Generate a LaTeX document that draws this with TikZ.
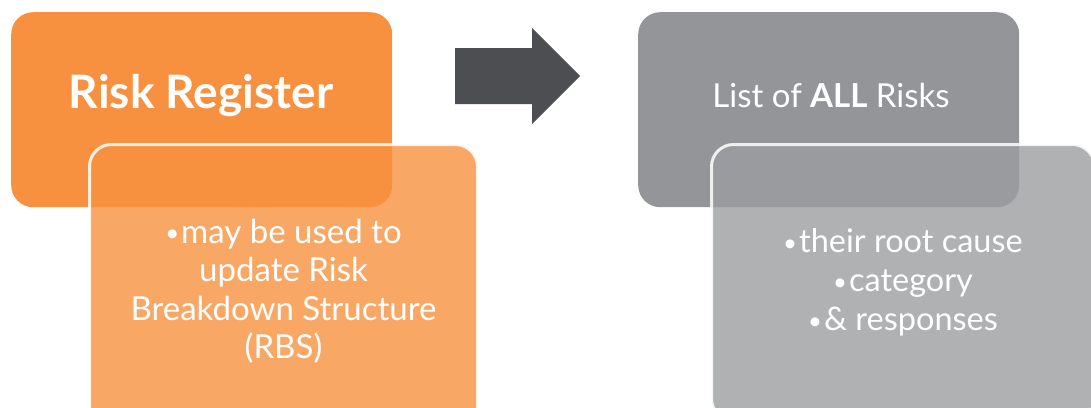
\documentclass[tikz,border=0pt]{standalone}
\usepackage{fontspec}
\setmainfont{Lato}
\definecolor{regorange}{HTML}{F7913F}
\definecolor{listgrey}{HTML}{939598}
\definecolor{notegrey}{HTML}{9C9DA0}
\definecolor{arrowgrey}{HTML}{4D4E52}
\newcommand{\notebullet}{{\fontsize{24}{24}\selectfont\raisebox{1.5pt}{\textbullet}}\hspace{2pt}}
\begin{document}
\begin{tikzpicture}[x=1pt,y=-1pt,
			topbox/.style={rounded corners=22pt, anchor=north west, inner sep=0pt,
				minimum width=381pt, minimum height=195pt},
			notebox/.style={rounded corners=22pt, anchor=north west, inner sep=0pt,
				draw=white, line width=3pt, draw opacity=0.85, fill opacity=0.8,
				text opacity=1, align=center},
			every node/.style={text=white}]
			
			\useasboundingbox (0,0) rectangle (1091,407);
			\clip (0,0) rectangle (1091,407);
			
			% register side
			\node[topbox, fill=regorange] (regbox) at (11,12) {};
			\node[notebox, fill=regorange, minimum width=388pt, minimum height=294pt,
				font=\fontsize{33}{38.5}\selectfont] (regnote) at (88,143)
				{\notebullet may be used to\\update Risk\\Breakdown Structure\\(RBS)};
			\node[font=\bfseries\fontsize{46}{46}\selectfont, anchor=base] (regtitle) at (201,108) {Risk Register};
			
			% arrow
			\fill[arrowgrey] (455,48) -- (532,48) -- (532,28) -- (580,76) -- (532,124) -- (532,104) -- (455,104) -- cycle;
			
			% list side
			\node[topbox, fill=listgrey] (listbox) at (638,12) {};
			\node[notebox, fill=notegrey, minimum width=383pt, minimum height=276pt,
				font=\fontsize{32.5}{39}\selectfont] (listnote) at (710,143)
				{\notebullet their root cause\\\notebullet category\\\notebullet\& responses};
			\node[font=\fontsize{33}{33}\selectfont, anchor=base] (listtitle) at (831,107) {List of \textbf{ALL} Risks};
			\end{tikzpicture}
\end{document}
